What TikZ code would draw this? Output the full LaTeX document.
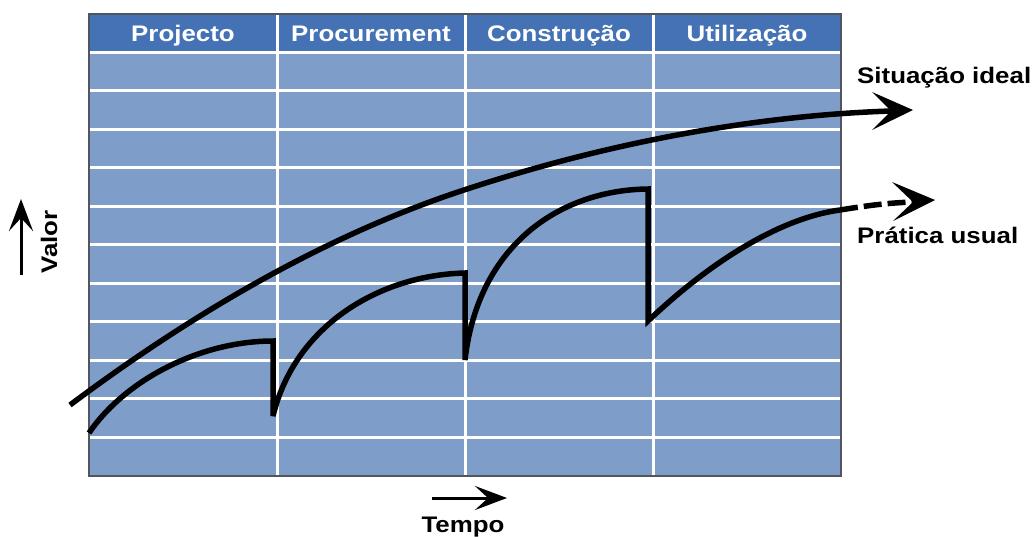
\documentclass[tikz,border=0pt]{standalone}
\usepackage{fontspec}
\setmainfont[FakeStretch=1.15]{Liberation Sans}
\usetikzlibrary{arrows.meta}
\definecolor{hdrblue}{RGB}{68,114,180}
\definecolor{cellblue}{RGB}{127,157,201}
\definecolor{framegray}{RGB}{80,85,95}
\begin{document}
\begin{tikzpicture}[x=1pt,y=-1pt,
  lbl/.style={font=\fontsize{22.5}{27}\selectfont\bfseries, inner sep=0pt},
  hdrtxt/.style={lbl, text=white, anchor=base},
  gridline/.style={white, line width=3pt},
  curve/.style={line width=5.5pt, line join=miter, miter limit=4},
  headfill/.style={fill=black},
  axarrow/.style={line width=3pt, -{Stealth[length=32pt, width=24pt, inset=13pt]}}
]
\useasboundingbox (0,0) rectangle (1035,536);
% table
\fill[cellblue] (89,14) rectangle (841,476);
\fill[hdrblue] (89,14) rectangle (841,52);
\foreach \k in {0,...,10} {
  \draw[gridline] (89,52+\k*38.55) -- (841,52+\k*38.55);
}
\foreach \xx in {277,465,653} {
  \draw[gridline] (\xx,14) -- (\xx,476);
}
\draw[framegray, line width=1.5pt] (89,14) rectangle (841,476);
% headers
\node[hdrtxt] (h1) at (183,41) {Projecto};
\node[hdrtxt] (h2) at (371,41) {Procurement};
\node[hdrtxt] (h3) at (559,41) {Construção};
\node[hdrtxt] (h4) at (747,41) {Utilização};
% ideal curve
\coordinate (idealtip) at (913,110);
\coordinate (idealnotch) at (891,111);
\draw[curve, line join=round] (70,405) .. controls (201,307) and (333,233) .. (464,190)
  .. controls (611,141.5) and (758,115.4) .. (idealnotch);
\fill[headfill] (idealtip) -- (872,92) -- (idealnotch) -- (872,130) -- cycle;
% practical curve
\draw[curve] (89,433) .. controls (125,380) and (200,341) .. (273,341)
  -- (273,416) .. controls (295,325) and (380,275) .. (465,273)
  -- (465,360) .. controls (478,245) and (560,190) .. (648,189)
  -- (648,321) .. controls (710,262) and (780,218) .. (840,210);
\coordinate (usualtip) at (935,200);
\coordinate (usualnotch) at (913,202);
\draw[curve, dash pattern=on 18pt off 6pt] (840,210) .. controls (865,206) and (885,203) .. (usualnotch);
\fill[headfill] (usualtip) -- (892,182) -- (usualnotch) -- (893,221) -- cycle;
% labels
\node[lbl, anchor=base west] (ideal) at (857,83) {Situação ideal};
\node[lbl, anchor=base west] (usual) at (857,243) {Prática usual};
\node[lbl, anchor=base] (tempo) at (463,532) {Tempo};
\node[lbl, anchor=base, rotate=90] (valor) at (57,242) {Valor};
% axis arrows
\coordinate (vtail) at (21,275);
\coordinate (vtip) at (21,199);
\coordinate (ttail) at (432,498);
\coordinate (ttip) at (507,498);
\draw[axarrow] (vtail) -- (vtip);
\draw[axarrow] (ttail) -- (ttip);
\end{tikzpicture}
\end{document}
